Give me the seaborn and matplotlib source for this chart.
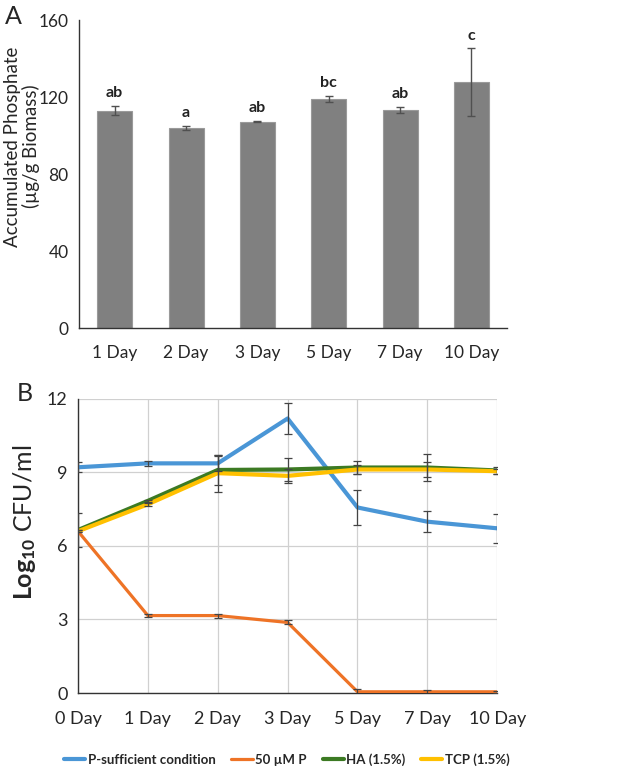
import matplotlib
matplotlib.use("Agg")
import matplotlib.pyplot as plt
import numpy as np
import pandas as pd
import seaborn as sns

# ---------------------------------------------------------------------------
# Data
# ---------------------------------------------------------------------------
days_a = ["1 Day", "2 Day", "3 Day", "5 Day", "7 Day", "10 Day"]
phosphate = [113.0, 104.0, 107.3, 119.2, 113.3, 127.8]
phosphate_err = [2.3, 1.0, 0.4, 1.5, 1.5, 17.5]
letters = ["ab", "a", "ab", "bc", "ab", "c"]

days_b = ["0 Day", "1 Day", "2 Day", "3 Day", "5 Day", "7 Day", "10 Day"]
p_sufficient = [9.21, 9.37, 9.37, 11.2, 7.57, 6.99, 6.72]
p_sufficient_err = [0.2, 0.1, 0.3, 0.65, 0.7, 0.42, 0.6]
p_50um = [6.6, 3.16, 3.16, 2.88, 0.05, 0.05, 0.05]
p_50um_err = [0.05, 0.05, 0.08, 0.08, 0.12, 0.08, 0.03]
ha = [6.65, 7.84, 9.1, 9.12, 9.2, 9.2, 9.08]
ha_err = [0.7, 0.05, 0.6, 0.47, 0.25, 0.57, 0.15]
tcp = [6.6, 7.7, 8.97, 8.86, 9.12, 9.12, 9.05]
tcp_err = [0.05, 0.05, 0.75, 0.3, 0.2, 0.3, 0.1]

series_names = ["P-sufficient condition", "50 µM P", "HA (1.5%)", "TCP (1.5%)"]
series_colors = ["#4a96d6", "#ee7326", "#3c7a23", "#ffc000"]
series_widths = [3.0, 2.3, 3.0, 3.0]

# ---------------------------------------------------------------------------
# Style
# ---------------------------------------------------------------------------
sns.set_style("white")
plt.rcParams["font.family"] = ["Lato", "DejaVu Sans"]
plt.rcParams["mathtext.fontset"] = "custom"
plt.rcParams["mathtext.rm"] = "Lato"
plt.rcParams["mathtext.bf"] = "Lato:bold"

fig = plt.figure(figsize=(6.42, 7.72), dpi=100)
axa = fig.add_axes([0.123, 0.575, 0.667, 0.399])
axb = fig.add_axes([0.1215, 0.1023, 0.653, 0.381])

# ---------------------------------------------------------------------------
# Panel A: bars
# ---------------------------------------------------------------------------
df_a = pd.DataFrame({"day": days_a, "value": phosphate})
sns.barplot(data=df_a, x="day", y="value", color="#808080", width=0.49,
            saturation=1, edgecolor="#9a9a9a", linewidth=0.8, ax=axa)
xs = np.arange(len(days_a))
axa.errorbar(xs, phosphate, yerr=phosphate_err, fmt="none",
             ecolor="#505050", elinewidth=1, capsize=3, capthick=1)
for x, v, e, lab in zip(xs, phosphate, phosphate_err, letters):
    axa.text(x, v + e + 3, lab, ha="center", va="bottom",
             fontsize=11.5, fontweight="bold", color="#222222")

axa.set_xlim(-0.5, len(days_a) - 0.5)
axa.set_ylim(0, 160)
axa.set_yticks([0, 40, 80, 120, 160])
axa.set_xticks(np.arange(-0.5, len(days_a)), labels=[""] * (len(days_a) + 1))
axa.set_xticks(xs, labels=days_a, minor=True)
axa.tick_params(axis="x", which="major", direction="out", length=6,
                width=1, color="#333333")
axa.tick_params(axis="x", which="minor", length=0, pad=12, labelsize=12.5)
axa.tick_params(axis="y", direction="out", length=4, width=1,
                color="#333333", labelsize=12.5)
axa.set_xlabel("")
axa.set_ylabel("Accumulated Phosphate\n(µg/g Biomass)", fontsize=13.5,
               linespacing=1.05)
axa.yaxis.set_label_coords(-0.092, 0.59)
sns.despine(ax=axa)
for s in ["left", "bottom"]:
    axa.spines[s].set_color("#333333")
    axa.spines[s].set_linewidth(1)
fig.text(0.008, 0.978, "A", fontsize=18, va="center")

# ---------------------------------------------------------------------------
# Panel B: lines
# ---------------------------------------------------------------------------
df_b = pd.DataFrame({
    "day": days_b * 4,
    "pos": list(range(len(days_b))) * 4,
    "value": p_sufficient + p_50um + ha + tcp,
    "series": sum([[n] * len(days_b) for n in series_names], []),
})
pos = np.arange(len(days_b))
errs = [p_sufficient_err, p_50um_err, ha_err, tcp_err]
vals = [p_sufficient, p_50um, ha, tcp]
for v, e in zip(vals, errs):
    axb.errorbar(pos, v, yerr=e, fmt="none", ecolor="#444444",
                 elinewidth=0.9, capsize=3, capthick=0.9, zorder=4)
for name, col, lw in zip(series_names, series_colors, series_widths):
    sub = df_b[df_b["series"] == name]
    sns.lineplot(data=sub, x="pos", y="value", color=col, linewidth=lw,
                 ax=axb, label=name, zorder=3)

axb.set_xlim(0, len(days_b) - 1)
axb.set_ylim(0, 12)
axb.set_yticks([0, 3, 6, 9, 12])
axb.set_xticks(pos, labels=days_b)
axb.grid(True, color="#d0d0d0", linewidth=0.9)
axb.tick_params(axis="x", direction="out", length=5, width=1,
                color="#333333", labelsize=13, pad=8)
axb.tick_params(axis="y", direction="out", length=4, width=1,
                color="#333333", labelsize=13)
axb.set_xlabel("")
axb.set_ylabel(r"$\mathbf{Log_{10}}$ CFU/ml", fontsize=18)
axb.yaxis.set_label_coords(-0.095, 0.58)
for s in ["top", "right"]:
    axb.spines[s].set_visible(False)
for s in ["left", "bottom"]:
    axb.spines[s].set_color("#333333")
    axb.spines[s].set_linewidth(1)
axb.set_axisbelow(True)

handles, labels = axb.get_legend_handles_labels()
axb.legend_.remove()
fig.legend(handles, labels, loc="center", bbox_to_anchor=(0.447, 0.016),
           ncol=4, frameon=False, handlelength=1.6,
           columnspacing=1.2, handletextpad=0.2,
           prop={"size": 9.5, "weight": "bold"})
fig.text(0.026, 0.490, "B", fontsize=18, va="center")

fig.savefig("out.png", dpi=100)
